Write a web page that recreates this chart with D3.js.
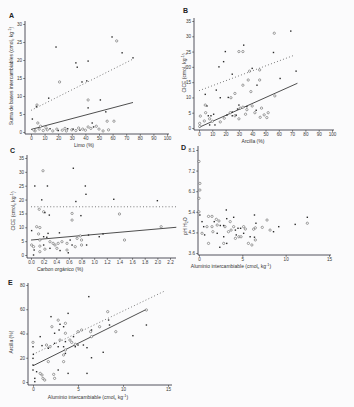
<!DOCTYPE html>
<html>
<head>
<meta charset="utf-8">
<script src="https://cdn.jsdelivr.net/npm/d3@7"></script>
<style>
  body { margin: 0; background: #fbfbfc; }
  svg { display: block; font-family: "Liberation Sans", Arial, sans-serif; }
  .tick text { font-size: 4.6px; fill: #3a3a3a; }
  .tick line { stroke: #333; stroke-width: 0.6; }
  .domain { display: none; }
</style>
</head>
<body>
<script>
// ---- data: [x, y] per sample ----
// A: Limo (%) vs suma de bases
const aOpen = [[63,25.3],[21,13.9],[42,8.9],[4.4,7.5],[5,2.5],[61,3],[56,3],[42,1.4],[48,1.6],[57,0.6],
  [44,1],[38,0.8],[3,0.3],[6,0.8],[9,0.4],[12,0.6],[16,0.3],[19,0.8],[23,0.5],[26,0.3],[30,0.6],[33,0.4],
  [35,1.1],[40,0.5],[50,0.8],[53,0.3],[7,1.6],[11,1.2],[2,0.6],[25,1]];
const aFilled = [[18.4,23.6],[33,19.2],[34,18],[42,19.7],[59.6,26.4],[67,22],[75,20.6],[37.5,13.9],[41,14.2],
  [51,8.9],[13,9.4],[1,3.6],[55,5.6],[42,6.7],[46,1.4],[4,7],[31,0.8],[36,0.5],[27,0.9],[14,0.9],[20,0.4],[45,2.5]];
// B: Arcilla (%) vs CICE
const bOpen = [[56.6,31],[30,25],[33,25],[38,18.6],[45.6,19],[37,15.7],[45.6,15.7],[33,14],[39,11.9],[57,10.5],
  [27,11.3],[24,9.9],[4.7,7.5],[5,5],[1,3.9],[0.5,1.5],[0.5,0.5],[4,2.3],[16,2],[23.5,5],[27,4],[31,6.5],
  [33,6.8],[36,6],[40,7.2],[42,5],[47,6.5],[49,4.3],[52,5],[51,3.4],[46,3.5],[35,4.5],[30,3],[19,3.2],[10,2.2],[8,3]];
const bFilled = [[69,31.7],[33.6,27.1],[19.8,25],[18.5,21.7],[15,20],[25,17.6],[56,24.7],[40,19.5],[43.6,14],
  [73,18.6],[61,16.2],[22,10],[13,12.4],[4.7,11],[6,7.2],[8,1],[12,1],[7,4],[9,4],[11,4.5],[21,4.2],[25,4],
  [28,4.2],[29,6.2],[30,7.5],[36,7],[43,5.8],[25,5.2],[16,9.9]];
// C: Carbono orgánico (%) vs CICE
const cOpen = [[0.19,30.4],[0.13,16.5],[0.2,15.6],[0.65,15],[1.4,14.8],[0.65,12.6],[0.09,10.2],[0.14,9.9],
  [0.12,7.6],[0.14,5.4],[0.3,4.8],[0.35,4.2],[0.38,3.6],[0.43,4.2],[0.49,4.8],[0.57,4.2],[0.73,6],[0.78,6.9],
  [0.8,5.4],[1.48,5.4],[2.06,10.2],[0.04,3],[0.57,1.8],[0.7,3],[0.8,3.6],[0.41,2.4],[0.22,2.1],[0.14,1.2],
  [0.01,3.6],[0.14,3.2]];
const cFilled = [[0.67,31.3],[0.06,24.9],[0.26,24.9],[0.86,24.9],[0.87,21.9],[0.17,19.9],[0.71,19.3],[1.31,20.1],
  [2.0,19.6],[0.22,15.3],[0.29,14.4],[0.79,14.2],[0.01,8.8],[0.27,7.8],[0.45,8],[0.91,7.2],[1.08,6.6],
  [1.14,7.6],[0.05,1.8],[0.04,0],[0.2,6.6],[0.25,6.4],[0.62,5.4],[0.2,3.6],[0.3,2.4],[0.46,1.6],[0.59,0.8],
  [0.65,3.6],[0.88,3.6]];
// D: Aluminio intercambiable vs pH H2O
const dOpen = [[0,7.6],[0.1,6.64],[0.1,6.35],[0,5.99],[0,5.4],[1.1,5.2],[1.5,5.2],[0.92,4.75],[1.5,4.75],
  [3.0,4.75],[2.3,5.0],[2.1,4.82],[2.0,5.07],[3.6,4.97],[4.0,4.75],[3.7,4.6],[5.15,4.75],[5.35,4.65],
  [3.4,4.53],[4.6,4.31],[4.85,4.31],[4.2,4.24],[2.85,4.02],[1.1,4.02],[0.35,4.46],[1.6,4.53],[5.7,4.02],
  [6.1,3.95],[6.5,4.17],[6.3,4.64],[6.5,4.7],[7.3,4.72],[7.85,5.04],[8.2,4.6],[12.5,4.9]];
const dFilled = [[0.1,5.26],[0.35,4.97],[0.54,4.75],[1.76,4.97],[2.46,4.8],[2.84,4.8],[3.2,5.1],[3.15,5.48],
  [4.0,5.16],[4.2,4.6],[4.5,4.68],[4.8,4.68],[4.3,4.39],[2.4,3.85],[3.2,4.02],[0.65,4.39],[2.1,4.46],
  [2.85,4.31],[5.15,4.46],[5.9,4.31],[6.4,4.29],[6.57,4.9],[6.4,5.26],[8.6,4.53],[9.2,4.75],[11.1,4.85],[12.5,5.16]];
// E: Aluminio intercambiable vs Arcilla (%)
const eOpen = [[2.1,45.6],[2.8,51],[3.6,48.4],[3.6,40.2],[5.0,41.5],[5.4,42.9],[4.1,34.6],[4.3,32.7],[4.7,31.1],
  [3.0,34.6],[1.5,30.5],[1.9,29.1],[0,32.7],[1.0,5.8],[1.1,3],[1.3,1.6],[0.8,7.1],[2.3,6.3],[2.4,3],[1.7,16.8],
  [3.4,16.8],[3.4,22.3],[3.6,26.4],[6.5,37.4],[6.4,41.5],[7.4,45.6],[8.3,58],[9.2,41.5],[12.6,59.4]];
const eFilled = [[6.2,70.4],[2.0,53.9],[3.9,56.6],[3.0,47.6],[3.4,45.6],[2.9,42.9],[2.4,40.2],[4.5,37.4],
  [5.0,30.5],[3.6,33.3],[3.4,29.1],[2.8,29.1],[2.4,31.9],[1.7,27.8],[1.0,30],[0.8,37.4],[0,29.1],[0.04,22.8],
  [0,19.5],[0,14],[0,9.9],[0.4,8.5],[0.2,3],[0.2,0.3],[2.8,9.9],[3.9,7.1],[6.0,7.1],[3.6,23.6],[4.7,29.1],
  [5.6,30.5],[6.0,28.3],[6.5,42.9],[8.4,51.1],[8.5,47],[7.8,24.5],[6.5,20],[11.1,38.2],[12.6,47]];

// fitted lines as drawn: [intercept, slope, xStart, xEnd]
const aDashed = [6, 0.19, 0, 75],     aSolid = [0.7, 0.1, 0, 75];
const bDashed = [12.2, 0.162, 0, 72], bSolid = [0.2, 0.195, 0, 74];
const cDashed = [17.4, 0, 0, 2.3],    cSolid = [5.4, 2.0, 0, 2.3];
const eDashed = [22.8, 3.57, 0, 14.7], eSolid = [13.4, 3.69, 0, 12.6];

// tick values
const pctTicks = [0,10,20,30,40,50,60,70,80,90,100];
const sbTicks = [0,5,10,15,20,25,30];
const ciceTicks = [0,5,10,15,20,25,30,35];
const carbonTicks = [0,0.2,0.4,0.6,0.8,1.0,1.2,1.4,1.6,1.8,2.0,2.2];
const phTicks = [3.6,4.5,5.4,6.3,7.2,8.1];
const alTicks = [0,5,10,15];
const arcTicks = [0,20,40,60,80];

const W = 354, H = 407;
const svg = d3.select('body').append('svg').attr('width', W).attr('height', H);

// writes "(cmolc kg-1)" with sub / superscript
function unitText(t, prefix){
  t.append('tspan').text(prefix + '(cmol');
  t.append('tspan').attr('dy', 1).style('font-size', '3.8px').text('c');
  t.append('tspan').attr('dy', -1).text(' kg');
  t.append('tspan').attr('dy', -1.8).style('font-size', '3.8px').text('-1');
  t.append('tspan').attr('dy', 1.8).text(')');
}

function panel(p){
  const x = d3.scaleLinear().domain(p.xDom).range(p.xRange);
  const y = d3.scaleLinear().domain(p.yDom).range(p.yRange);
  const g = svg.append('g');

  // L shaped axes
  g.append('path')
    .attr('d', `M${p.left},${p.top}V${p.bottom}H${p.right}`)
    .attr('fill', 'none').attr('stroke', '#2a2a35').attr('stroke-width', 0.8);

  g.append('g').attr('transform', `translate(0,${p.bottom})`)
    .call(d3.axisBottom(x).tickValues(p.xTicks).tickSize(1.8).tickPadding(1.2).tickFormat(p.xFmt || d3.format('d')));
  g.append('g').attr('transform', `translate(${p.left},0)`)
    .call(d3.axisLeft(y).tickValues(p.yTicks).tickSize(1.8).tickPadding(1.2).tickFormat(p.yFmt || d3.format('d')));

  // regression lines
  const line = d3.line().x(d => x(d[0])).y(d => y(d[1]));
  const seg = l => [[l[2], l[0] + l[1]*l[2]], [l[3], l[0] + l[1]*l[3]]];
  if (p.dashed) g.append('path').attr('d', line(seg(p.dashed)))
    .attr('stroke', '#444').attr('stroke-width', 0.7).attr('stroke-dasharray', '1,2.2').attr('fill', 'none');
  if (p.solid) g.append('path').attr('d', line(seg(p.solid)))
    .attr('stroke', '#222').attr('stroke-width', 0.8).attr('fill', 'none');

  // points
  g.selectAll('circle.open').data(p.open).join('circle').classed('open', true)
    .attr('cx', d => x(d[0])).attr('cy', d => y(d[1])).attr('r', 1.15)
    .attr('fill', '#fff').attr('stroke', '#555').attr('stroke-width', 0.55);
  g.selectAll('rect.filled').data(p.filled).join('rect').classed('filled', true)
    .attr('x', d => x(d[0]) - 0.7).attr('y', d => y(d[1]) - 0.7)
    .attr('width', 1.4).attr('height', 1.4).attr('fill', '#2b2b2b');

  // panel letter
  g.append('text').attr('x', p.letter[0]).attr('y', p.letter[1])
    .style('font-size', '7px').style('font-weight', 'bold').attr('fill', '#222').text(p.name);

  // axis titles
  const xt = g.append('text').attr('x', p.xTitlePos[0]).attr('y', p.xTitlePos[1])
    .attr('text-anchor', 'middle').style('font-size', '5px').attr('fill', '#333');
  if (p.xUnit) unitText(xt, p.xTitle); else xt.text(p.xTitle);

  const yt = g.append('text')
    .attr('transform', `translate(${p.yTitlePos[0]},${p.yTitlePos[1]}) rotate(-90)`)
    .attr('text-anchor', 'middle').style('font-size', '5px').attr('fill', '#333');
  if (p.yUnit) unitText(yt, p.yTitle);
  else if (p.name === 'D') {
    yt.append('tspan').text('pH H');
    yt.append('tspan').attr('dy', 1).style('font-size', '3.8px').text('2');
    yt.append('tspan').attr('dy', -1).text('O');
  } else yt.text(p.yTitle);
}

panel({name:'A', letter:[9,18], xDom:[0,100], xRange:[31,167], yDom:[0,30], yRange:[132,24],
  left:25, bottom:134, top:21, right:169, xTicks:pctTicks, yTicks:sbTicks,
  open:aOpen, filled:aFilled, dashed:aDashed, solid:aSolid,
  xTitle:'Limo (%)', xTitlePos:[84,147], yTitle:'Suma de bases intercambiables ', yUnit:true, yTitlePos:[13,76]});

panel({name:'B', letter:[183,13], xDom:[0,100], xRange:[199,332], yDom:[0,35], yRange:[128,21],
  left:194, bottom:130, top:18, right:334, xTicks:pctTicks, yTicks:ciceTicks,
  open:bOpen, filled:bFilled, dashed:bDashed, solid:bSolid,
  xTitle:'Arcilla (%)', xTitlePos:[253,143], yTitle:'CICE ', yUnit:true, yTitlePos:[186,73]});

panel({name:'C', letter:[10,153], xDom:[0,2.2], xRange:[31,170], yDom:[0,35], yRange:[255,158],
  left:27, bottom:258, top:155, right:176, xTicks:carbonTicks, yTicks:ciceTicks, xFmt:d3.format('.1f'),
  open:cOpen, filled:cFilled, dashed:cDashed, solid:cSolid,
  xTitle:'Carbon orgánico (%)', xTitlePos:[60,271], yTitle:'CICE ', yUnit:true, yTitlePos:[15,211]});

panel({name:'D', letter:[181,150], xDom:[0,15], xRange:[199,329], yDom:[3.6,8.1], yRange:[253,150],
  left:198, bottom:255, top:146, right:331, xTicks:alTicks, yTicks:phTicks, yFmt:d3.format('.1f'),
  open:dOpen, filled:dFilled,
  xTitle:'Aluminio intercambiable ', xUnit:true, xTitlePos:[231,268], yTitle:'pH H2O', yTitlePos:[187,226]});

panel({name:'E', letter:[8,285], xDom:[0,15], xRange:[33,168], yDom:[0,80], yRange:[382,285],
  left:28, bottom:385, top:283, right:172, xTicks:alTicks, yTicks:arcTicks,
  open:eOpen, filled:eFilled, dashed:eDashed, solid:eSolid,
  xTitle:'Aluminio intercambiable ', xUnit:true, xTitlePos:[88,399], yTitle:'Arcilla (%)', yTitlePos:[13,342]});
</script>
</body>
</html>
